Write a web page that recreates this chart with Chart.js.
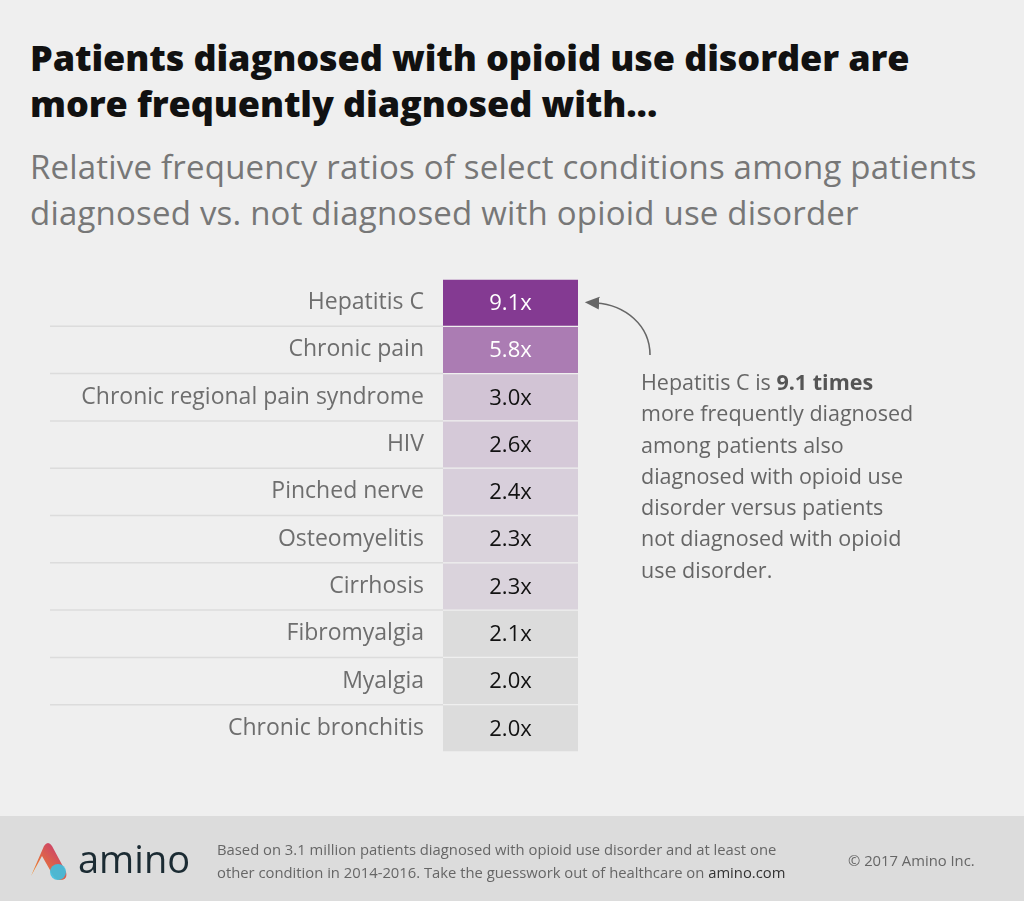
<!DOCTYPE html>
<html>
<head>
<meta charset="utf-8">
<script src="https://cdn.jsdelivr.net/npm/chart.js@4"></script>
<style>
	html, body { margin: 0; padding: 0; }
	body { width: 1024px; height: 901px; background: #efefef; position: relative; overflow: hidden; font-family: "Open Sans", Lato, sans-serif; }
	#titulo { position: absolute; left: 30px; top: 35px; font-size: 36px; font-weight: 800; line-height: 46px; color: #111; margin: 0; letter-spacing: -0.1px; }
	#subtitulo { position: absolute; left: 30px; top: 144px; font-size: 33px; line-height: 46px; color: #777; margin: 0; letter-spacing: 0.2px; }
	#grafico { position: absolute; left: 0; top: 254px; }
	#nota { position: absolute; left: 641px; top: 366px; width: 278px; font-size: 21.5px; line-height: 31.3px; color: #666; }
	#nota b { color: #555; }
	#seta { position: absolute; left: 0; top: 0; }
	#rodape { position: absolute; left: 0; top: 816px; width: 1024px; height: 85px; background: #dcdcdc; }
	#marca { position: absolute; left: 78px; top: 16px; font-size: 38px; color: #1b2b33; }
	#fonte { position: absolute; left: 217px; top: 22px; font-size: 14.8px; line-height: 23px; color: #666; }
	#fonte b { color: #333; font-weight: normal; }
	#copy { position: absolute; left: 848px; top: 34px; font-size: 14.8px; color: #666; }
</style>
</head>
<body>
<h1 id="titulo">Patients diagnosed with opioid use disorder are<br>more frequently diagnosed with...</h1>
<p id="subtitulo">Relative frequency ratios of select conditions among patients<br>diagnosed vs. not diagnosed with opioid use disorder</p>
<canvas id="grafico" width="1024" height="523"></canvas>
<svg id="seta" width="1024" height="901">
	<defs><marker id="ponta" markerWidth="10" markerHeight="10" refX="2" refY="5" orient="auto"><path d="M0,1 L9,5 L0,9 z" fill="#666"/></marker></defs>
	<path d="M650,355 C650,325 625,305 596,303" fill="none" stroke="#666" stroke-width="1.6" marker-end="url(#ponta)"/>
</svg>
<div id="nota">Hepatitis C is <b>9.1 times</b> more frequently diagnosed among patients also diagnosed with opioid use disorder versus patients not diagnosed with opioid use disorder.</div>
<div id="rodape">
	<svg style="position:absolute;left:28px;top:26px" width="42" height="40">
		<defs><linearGradient id="g1" x1="0" y1="1" x2="1" y2="0"><stop offset="0" stop-color="#f7931e"/><stop offset="1" stop-color="#c2307a"/></linearGradient></defs>
		<path d="M3,34 L16,4 Q20,-2 24,4 L38,30 Q40,38 32,38 Q26,38 22,28 L14,14 Z" fill="url(#g1)"/>
		<circle cx="30" cy="30" r="8" fill="#3ec0e0" opacity="0.9"/>
	</svg>
	<div id="marca">amino</div>
	<div id="fonte">Based on 3.1 million patients diagnosed with opioid use disorder and at least one<br>other condition in 2014-2016. Take the guesswork out of healthcare on <b>amino.com</b></div>
	<div id="copy">© 2017 Amino Inc.</div>
</div>
<script>
var condicoes = ['Hepatitis C', 'Chronic pain', 'Chronic regional pain syndrome', 'HIV', 'Pinched nerve',
	'Osteomyelitis', 'Cirrhosis', 'Fibromyalgia', 'Myalgia', 'Chronic bronchitis'];
var razoes = [9.1, 5.8, 3.0, 2.6, 2.4, 2.3, 2.3, 2.1, 2.0, 2.0];
var cores = ['#843a92', '#ab7cb3', '#d2c4d5', '#d5c9d8', '#d8cfdb', '#dad3dc', '#dad3dc', '#dcdcdc', '#dcdcdc', '#dcdcdc'];
var coresTexto = ['#ffffff', '#ffffff', '#111', '#111', '#111', '#111', '#111', '#111', '#111', '#111'];

// separadores das linhas a esquerda das celulas
var separadores = {
	id: 'separadores',
	beforeDatasetsDraw: function(chart) {
		var ctx = chart.ctx, y = chart.scales.y, area = chart.chartArea;
		ctx.save();
		ctx.strokeStyle = '#dcdcdc';
		ctx.lineWidth = 1.5;
		for (var i = 1; i < condicoes.length; i++) {
			var py = (y.getPixelForValue(i - 1) + y.getPixelForValue(i)) / 2;
			ctx.beginPath();
			ctx.moveTo(50, py);
			ctx.lineTo(area.left, py);
			ctx.stroke();
		}
		ctx.restore();
	}
};

// texto do valor dentro de cada celula
var rotulos = {
	id: 'rotulos',
	afterDatasetsDraw: function(chart) {
		var ctx = chart.ctx;
		ctx.save();
		ctx.font = '22px "Open Sans", sans-serif';
		ctx.textAlign = 'center';
		ctx.textBaseline = 'middle';
		chart.getDatasetMeta(0).data.forEach(function(bar, i) {
			ctx.fillStyle = coresTexto[i];
			ctx.fillText(razoes[i].toFixed(1) + 'x', (bar.x + bar.base) / 2, bar.y + 1);
		});
		ctx.restore();
	}
};

new Chart(document.getElementById('grafico').getContext('2d'), {
	type: 'bar',
	data: {
		labels: condicoes,
		datasets: [{
			data: razoes.map(function() { return [0, 1]; }),
			backgroundColor: cores,
			borderColor: '#efefef',
			borderWidth: { top: 1, bottom: 1, left: 0, right: 0 },
			borderSkipped: false,
			categoryPercentage: 1,
			barPercentage: 1
		}]
	},
	options: {
		indexAxis: 'y',
		responsive: false,
		animation: false,
		layout: { padding: { top: 25, bottom: 25, right: 446, left: 0 } },
		plugins: { legend: { display: false }, tooltip: { enabled: false } },
		scales: {
			x: { display: false, min: 0, max: 1 },
			y: {
				grid: { display: false },
				border: { display: false },
				afterFit: function(scale) { scale.width = 443; },
				ticks: { color: '#6e6e6e', padding: 11, font: { family: '"Open Sans", sans-serif', size: 23 } }
			}
		}
	},
	plugins: [separadores, rotulos]
});
</script>
</body>
</html>
